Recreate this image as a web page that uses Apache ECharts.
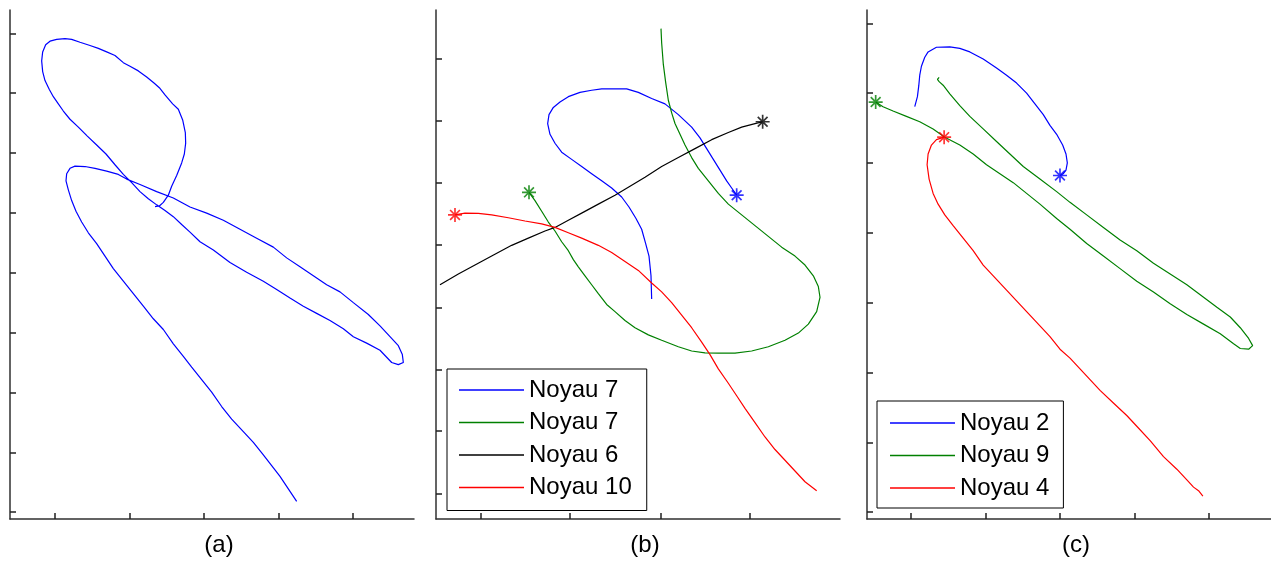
<!DOCTYPE html>
<html>
<head>
<meta charset="utf-8">
<script src="https://cdn.jsdelivr.net/npm/echarts@6/dist/echarts.min.js"></script>
<style>
  html, body { margin: 0; padding: 0; background: #fff; }
  #chart { width: 1271px; height: 562px; }
</style>
</head>
<body>
<div id="chart"></div>
<script>
// trajectoires (unites arbitraires, pas de graduations chiffrees)

// (a) : une seule trajectoire
const aBlue = [[465,872],[478,874],[490,884],[505,904],[515,929],[530,959],[545,994],[553,1019],[557,1049],[556,1079],[548,1114],[535,1144],[518,1159],[495,1184],[478,1204],[462,1217],[440,1234],[415,1251],[390,1264],[370,1274],[345,1294],[320,1304],[295,1314],[270,1322],[240,1331],[215,1339],[195,1341],[170,1339],[150,1334],[137,1324],[128,1304],[125,1279],[128,1249],[135,1224],[148,1199],[160,1179],[175,1159],[190,1139],[210,1116],[235,1094],[262,1069],[290,1044],[318,1019],[345,989],[370,962],[395,939],[420,914],[445,894],[470,877],[495,861],[520,844],[545,822],[570,801],[600,774],[640,751],[690,716],[740,689],[790,664],[830,641],[870,617],[910,594],[950,574],[990,554],[1030,531],[1060,509],[1100,491],[1140,471],[1175,437],[1195,431],[1210,437],[1207,459],[1195,484],[1170,509],[1140,539],[1105,571],[1060,604],[1020,634],[980,654],[940,679],[900,704],[860,729],[820,759],[770,784],[720,809],[670,834],[620,854],[570,871],[520,896],[470,914],[420,934],[380,949],[355,962],[320,971],[285,979],[255,984],[225,985],[210,979],[200,964],[198,944],[205,919],[215,889],[228,859],[245,829],[265,799],[290,769],[315,734],[340,699],[370,664],[400,629],[430,594],[460,559],[490,529],[520,489],[550,454],[575,424],[605,389],[635,354],[665,314],[695,279],[730,244],[760,214],[790,179],[815,149],[840,119],[865,84],[890,49]];

// (b)
const bBlue = [[680,614],[678,679],[672,734],[662,769],[650,809],[633,839],[612,871],[590,899],[560,924],[530,944],[500,964],[470,984],[440,1004],[410,1024],[390,1049],[375,1074],[368,1104],[372,1129],[385,1149],[405,1164],[430,1179],[465,1191],[500,1197],[530,1201],[570,1201],[605,1201],[640,1191],[680,1174],[720,1159],[760,1129],[800,1094],[825,1064],[845,1034],[865,1004],[885,974],[905,944],[920,924],[935,904]];
const bGreen = [[312,912],[330,889],[350,859],[370,829],[390,804],[410,774],[430,749],[445,724],[460,704],[480,679],[500,654],[520,629],[545,599],[570,579],[600,554],[630,534],[670,514],[710,499],[760,481],[800,469],[840,464],[880,463],[930,463],[980,469],[1030,481],[1080,499],[1120,519],[1150,544],[1175,579],[1185,619],[1180,649],[1165,679],[1140,709],[1110,734],[1070,759],[1030,789],[990,819],[950,849],[910,879],[880,909],[850,944],[820,979],[800,1009],[780,1044],[765,1074],[750,1104],[740,1134],[730,1169],[722,1219],[715,1269],[710,1329],[708,1369]];
const bBlack = [[45,654],[100,684],[150,709],[200,734],[260,764],[310,784],[360,804],[390,814],[430,834],[470,854],[520,879],[570,904],[615,929],[660,954],[710,984],[760,1009],[810,1034],[860,1059],[910,1079],[950,1094],[990,1104],[1013,1109]];
const bRed = [[90,849],[120,854],[160,853],[200,849],[250,841],[300,832],[350,824],[390,814],[430,799],[470,784],[520,764],[560,744],[600,719],[640,694],[680,659],[710,634],[740,604],[770,569],[800,534],[830,494],[855,459],[880,419],[910,379],[935,344],[960,309],[990,269],[1020,229],[1050,194],[1080,164],[1110,134],[1140,104],[1175,79]];

// (c)
const cBlue = [[195,1151],[203,1179],[207,1209],[210,1239],[215,1264],[225,1289],[235,1304],[260,1317],[300,1318],[330,1314],[360,1304],[400,1284],[440,1259],[470,1239],[500,1217],[530,1189],[555,1159],[580,1129],[600,1099],[620,1074],[638,1044],[648,1019],[652,994],[648,974],[640,964],[630,959]];
const cGreen = [[78,1164],[100,1151],[130,1139],[170,1124],[210,1109],[250,1089],[285,1066],[330,1044],[370,1019],[410,989],[450,964],[490,939],[530,909],[570,879],[620,839],[660,809],[710,769],[760,734],[810,699],[860,664],[910,634],[960,601],[1010,571],[1060,544],[1110,517],[1150,489],[1170,476],[1195,474],[1207,484],[1195,504],[1170,534],[1140,564],[1100,591],[1060,619],[1010,654],[960,684],[910,714],[860,749],[810,779],[760,814],[710,849],[660,884],[620,914],[570,949],[520,984],[480,1019],[440,1054],[400,1089],[360,1124],[330,1154],[300,1187],[280,1211],[268,1221],[263,1227],[268,1233]];
const cRed = [[283,1066],[260,1059],[245,1044],[235,1019],[232,989],[238,949],[250,909],[265,879],[285,849],[310,819],[340,784],[370,749],[400,709],[435,674],[470,639],[500,609],[535,574],[570,539],[600,509],[630,474],[660,449],[690,419],[720,389],[750,359],[790,324],[830,289],[860,259],[900,219],[940,174],[980,139],[1010,109],[1030,89],[1045,79],[1058,64]];

// bornes des axes et graduations (sans etiquettes)
const aRangeX = [30, 1242], aRangeY = [0, 1421];
const bRangeX = [33, 1245], bRangeY = [0, 1421];
const cRangeX = [52, 1262], cRangeY = [0, 1421];
const aTicksX = [163, 390, 610, 835, 1057];
const aTicksY = [19, 186, 353, 520, 687, 855, 1022, 1189, 1356];
const bTicksX = [168, 435, 706, 973];
const bTicksY = [71, 245, 418, 591, 765, 938, 1111, 1284];
const cTicksX = [183, 408, 630, 855, 1077];
const cTicksY = [19, 214, 409, 604, 799, 994, 1189, 1384];

const panelNames = ['(a)', '(b)', '(c)'];
const bNames = ['Noyau 7', 'Noyau 7 ', 'Noyau 6', 'Noyau 10'];
const cNames = ['Noyau 2', 'Noyau 9', 'Noyau 4'];

const BLUE = '#0000ff', GREEN = '#008000', BLACK = '#000000', RED = '#ff0000';
const FONT = "'Liberation Sans', Arial, sans-serif";
// asterisque facon matlab (+ et x superposes)
const STAR = 'path://M44,0L56,0L56,100L44,100Z M0,44L100,44L100,56L0,56Z M19.2,10.8L89.2,80.8L80.8,89.2L10.8,19.2Z M80.8,10.8L89.2,19.2L19.2,89.2L10.8,80.8Z';

const chart = echarts.init(document.getElementById('chart'), null, { renderer: 'canvas' });

function xAx(i, range, ticks) {
  return {
    type: 'value', gridIndex: i, min: range[0], max: range[1],
    name: panelNames[i], nameLocation: 'middle', nameGap: 14,
    nameTextStyle: { fontSize: 24, fontFamily: FONT, color: '#000', padding: [0, 0, 0, 14] },
    axisLine: { show: true, onZero: false, lineStyle: { color: '#303030', width: 1.5 } },
    axisTick: { show: true, inside: true, length: 6, customValues: ticks, lineStyle: { color: '#202020', width: 1.5 } },
    axisLabel: { show: false },
    splitLine: { show: false },
  }
}
function yAx(i, range, ticks) {
  return {
    type: 'value', gridIndex: i, min: range[0], max: range[1],
    axisLine: { show: true, onZero: false, lineStyle: { color: '#303030', width: 1.5 } },
    axisTick: { show: true, inside: true, length: 6, customValues: ticks, lineStyle: { color: '#202020', width: 1.5 } },
    axisLabel: { show: false },
    splitLine: { show: false },
  }
}
function line(name, data, color, i) {
  return {
    name, type: 'line', data, xAxisIndex: i, yAxisIndex: i,
    symbol: 'none', smooth: false, z: 2,
    lineStyle: { color, width: 1.2 }, itemStyle: { color },
  }
}
function star(name, point, color, i) {
  return {
    name, type: 'scatter', data: [point], xAxisIndex: i, yAxisIndex: i,
    symbol: STAR, symbolSize: 14, z: 3, itemStyle: { color },
  }
}
function legendBox(names, left, top, padding) {
  return {
    data: names, orient: 'vertical', left, top, padding,
    icon: 'rect', itemWidth: 65, itemHeight: 1.5, itemGap: 8.5,
    backgroundColor: '#fff', borderColor: '#000', borderWidth: 1, borderRadius: 0,
    formatter: n => n.trim(),
    textStyle: { fontSize: 24, lineHeight: 24, fontFamily: FONT, color: '#000' },
  }
}

const option = {
  animation: false,
  backgroundColor: '#fff',
  grid: [
    { left: 10, top: 10, width: 404, height: 510 },
    { left: 436, top: 10, width: 404, height: 510 },
    { left: 867, top: 10, width: 404, height: 510 },
  ],
  xAxis: [xAx(0, aRangeX, aTicksX), xAx(1, bRangeX, bTicksX), xAx(2, cRangeX, cTicksX)],
  yAxis: [yAx(0, aRangeY, aTicksY), yAx(1, bRangeY, bTicksY), yAx(2, cRangeY, cTicksY)],
  legend: [
    legendBox(bNames, 447, 369, [9, 15, 11, 12]),
    legendBox(cNames, 877, 401, [10, 14, 8, 13]),
  ],
  series: [
    line('a', aBlue, BLUE, 0),
    line(bNames[0], bBlue, BLUE, 1),
    line(bNames[1], bGreen, GREEN, 1),
    line(bNames[2], bBlack, BLACK, 1),
    line(bNames[3], bRed, RED, 1),
    star('*b1', bBlue[bBlue.length - 1], BLUE, 1),
    star('*b2', bGreen[0], GREEN, 1),
    star('*b3', bBlack[bBlack.length - 1], BLACK, 1),
    star('*b4', bRed[0], RED, 1),
    line(cNames[0], cBlue, BLUE, 2),
    line(cNames[1], cGreen, GREEN, 2),
    line(cNames[2], cRed, RED, 2),
    star('*c1', cBlue[cBlue.length - 1], BLUE, 2),
    star('*c2', cGreen[0], GREEN, 2),
    star('*c3', cRed[0], RED, 2),
  ],
};

chart.setOption(option);
window.addEventListener('resize', () => chart.resize());
</script>
</body>
</html>
